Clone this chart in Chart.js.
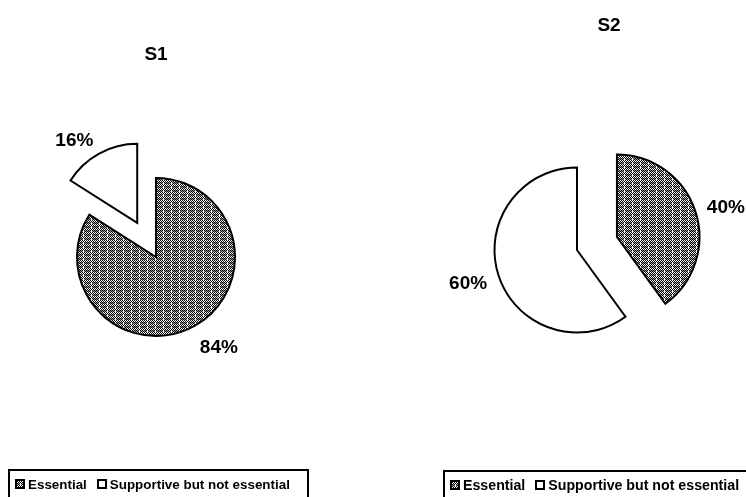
<!DOCTYPE html>
<html>
<head>
<meta charset="utf-8">
<script src="https://cdn.jsdelivr.net/npm/chart.js@4/dist/chart.umd.min.js"></script>
<style>
  body { margin: 0; background: #fff; width: 746px; height: 497px; overflow: hidden; position: relative;
         font-family: "Liberation Sans", Arial, sans-serif; }
  canvas { position: absolute; top: 0; }
  .title { position: absolute; font-weight: bold; font-size: 19px; transform: translate(-50%, -50%); }
  .legend { position: absolute; border: 2px solid #000; height: 40px; box-sizing: border-box;
            font-weight: bold; white-space: nowrap; padding: 5px 0 0 5px; }
  .legend span { display: inline-block; vertical-align: middle; }
  .sw { width: 6px; height: 6px; border: 2px solid #000; margin-right: 3px; }
  .gap { width: 10px; }
</style>
</head>
<body>
<canvas id="c1" width="373" height="497" style="left:0"></canvas>
<canvas id="c2" width="373" height="497" style="left:373px"></canvas>
<div class="title" style="left:156px; top:54px">S1</div>
<div class="title" style="left:609px; top:25px">S2</div>
<div class="legend" id="lg1" style="left:8px; top:469px; width:301px; font-size:13.4px"></div>
<div class="legend" id="lg2" style="left:443px; top:470px; width:320px; font-size:14.2px; padding-top:4px"></div>
<script>
// данные
const labels = ['Essential', 'Supportive but not essential'];
const s1Values = [84, 16];
const s2Values = [40, 60];

// 🔹 узор для "Essential": полосы шахматки + белые штрихи
function makePattern() {
  const c = document.createElement('canvas');
  c.width = 8; c.height = 4;
  const g = c.getContext('2d');
  for (let y = 0; y < 4; y++) {
    for (let x = 0; x < 8; x++) {
      const black = (x + y) % 2 === 0;
      let col;
      if (y < 2) col = black ? '#000' : '#fff';
      else col = black ? '#000' : '#9a9a9a';
      if (x === 3 && y >= 2) col = '#fff';
      g.fillStyle = col;
      g.fillRect(x, y, 1, 1);
    }
  }
  return c;
}
const tile = makePattern();
const pattern = document.getElementById('c1').getContext('2d').createPattern(tile, 'repeat');
const fills = [pattern, '#ffffff'];

// 🔹 вынос сектора: сдвигаем центр дуги по средней линии (без роста радиуса, как у offset)
const explode = {
  id: 'explode',
  afterDatasetUpdate(chart, args, opts) {
    args.meta.data.forEach((arc, i) => {
      const s = (opts.shifts && opts.shifts[i]) || 0;
      if (!s) return;
      const mid = (arc.startAngle + arc.endAngle) / 2;
      arc.x += Math.cos(mid) * s;
      arc.y += Math.sin(mid) * s;
    });
  }
};

// 🔹 подписи процентов снаружи
const pctLabels = {
  id: 'pctLabels',
  afterDatasetsDraw(chart) {
    const ctx = chart.ctx;
    const ds = chart.data.datasets[0];
    const total = ds.data.reduce((a, b) => a + b, 0);
    const meta = chart.getDatasetMeta(0);
    ctx.save();
    ctx.font = 'bold 19px "Liberation Sans", Arial, sans-serif';
    ctx.fillStyle = '#000';
    ctx.textAlign = 'center';
    ctx.textBaseline = 'middle';
    meta.data.forEach((arc, i) => {
      const p = arc.getProps(['x', 'y', 'startAngle', 'endAngle', 'outerRadius']);
      const mid = (p.startAngle + p.endAngle) / 2;
      const R = p.outerRadius + 12;
      const dx = Math.cos(mid), dy = Math.sin(mid);
      const text = Math.round(ds.data[i] / total * 100) + '%';
      const w = ctx.measureText(text).width;
      const x = p.x + R * dx + Math.sign(dx) * w / 2;
      const y = p.y + R * dy + Math.max(dy, 0) * 11 + Math.min(dy, 0) * 4;
      ctx.fillText(text, x, y + 1);
    });
    ctx.restore();
  }
};

function buildPie(id, values, shifts, radius, padding) {
  return new Chart(document.getElementById(id), {
    type: 'pie',
    data: {
      labels: labels,
      datasets: [{
        data: values,
        backgroundColor: fills,
        borderColor: '#000',
        borderWidth: 2,
        borderJoinStyle: 'miter',
        radius: radius
      }]
    },
    options: {
      responsive: false,
      animation: false,
      layout: { padding: padding },
      plugins: {
        legend: { display: false },
        tooltip: { enabled: false },
        title: { display: false },
        explode: { shifts: shifts }
      }
    },
    plugins: [explode, pctLabels]
  });
}

buildPie('c1', s1Values, [0, 39], 79, { left: 0, right: 61, top: 17, bottom: 0 });
buildPie('c2', s2Values, [42, 0], 82.5, { left: 35, right: 0, top: 3, bottom: 0 });

// 🔹 легенда в рамке
const swUrl = tile.toDataURL();
['lg1', 'lg2'].forEach(id => {
  const el = document.getElementById(id);
  labels.forEach((lab, i) => {
    if (i > 0) el.insertAdjacentHTML('beforeend', '<span class="gap"></span>');
    const bg = i === 0 ? `background-image:url(${swUrl})` : 'background:#fff';
    el.insertAdjacentHTML('beforeend', `<span class="sw" style="${bg}"></span><span>${lab}</span>`);
  });
});
</script>
</body>
</html>
